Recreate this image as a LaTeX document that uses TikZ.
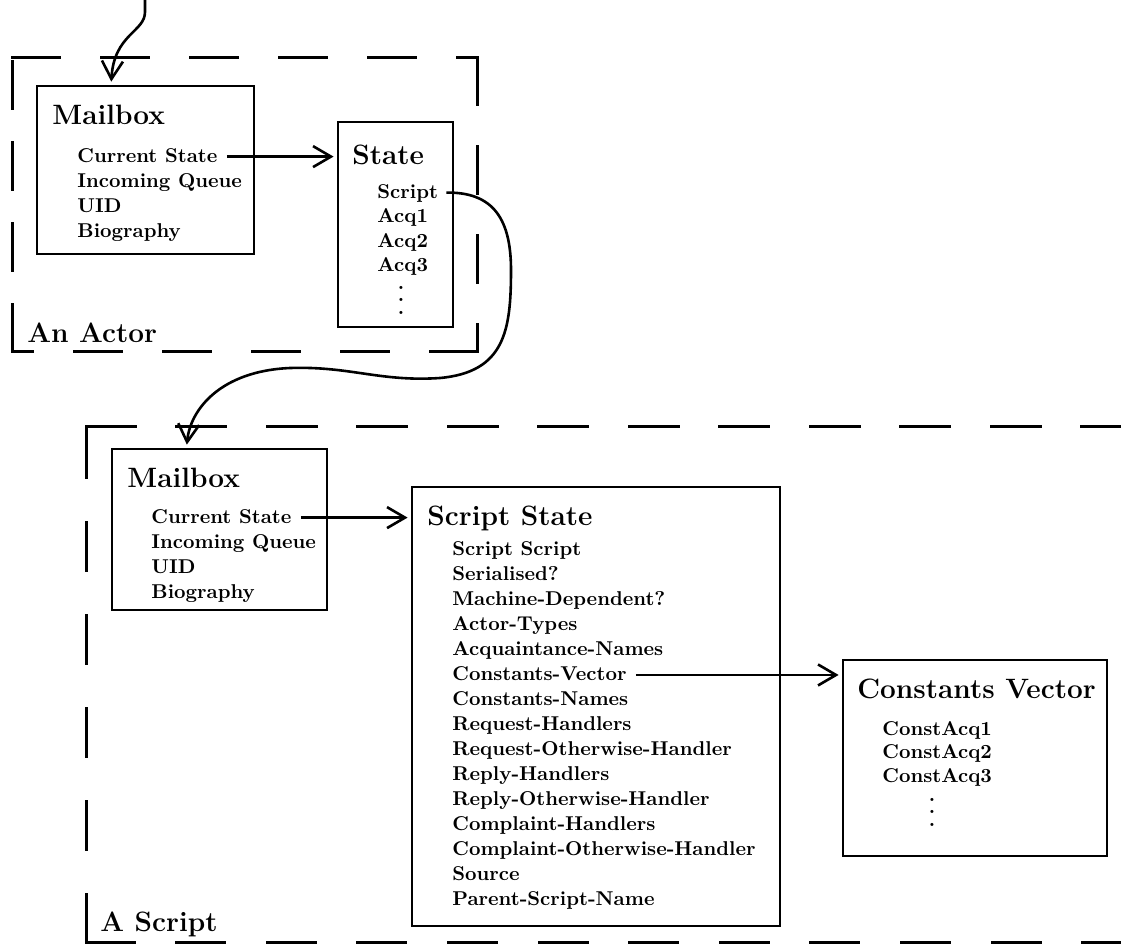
\documentclass[tikz,border=0pt]{standalone}
\usetikzlibrary{arrows.meta,fit,calc}
\newcommand{\myvdots}{\vbox{\baselineskip6.25pt\lineskiplimit0pt\hbox{.}\hbox{.}\hbox{.}}}
\begin{document}
\begin{tikzpicture}[x=0.5pt,y=-0.5pt,
  box/.style={draw, line width=1.4pt, inner sep=0pt, rectangle},
  ttl/.style={anchor=base west, inner sep=0pt, font=\bfseries\fontsize{14}{16}\selectfont},
  itm/.style={anchor=base west, inner sep=0pt, font=\bfseries\fontsize{10}{12.5}\selectfont},
  vdot/.style={anchor=base, inner sep=0pt, font=\bfseries\fontsize{10}{12}\selectfont},
  arr/.style={line width=1.3pt, -{Straight Barb[length=9pt,width=10.5pt,line width=1.3pt]}, shorten >=1.5pt},
  dsh/.style={line width=1.5pt, line cap=rect},
]
\useasboundingbox (0,0) rectangle (1121,944);

% ---------- An Actor (dashed frame) ----------
\draw[dsh, dash pattern=on 23.5pt off 21pt] (12,57) -- (477,57);
\draw[dsh, dash pattern=on 23.5pt off 21pt] (477,57) -- (477,351);
\draw[dsh, dash pattern=on 23.5pt off 21pt] (477,351) -- (12,351);
\draw[dsh, dash pattern=on 23.5pt off 17pt] (12,351) -- (12,57);
\node[ttl] (actorlbl) at (27,342) {An Actor};

% Mailbox 1
\node[box, fit={(37,86) (254,254)}] (mb1) {};
\node[ttl] (mb1t) at (52,124) {Mailbox};
\node[itm] (cs1) at (77,162) {Current State};
\node[itm] (iq1) at (77,187) {Incoming Queue};
\node[itm] (uid1) at (77,212) {UID};
\node[itm] (bio1) at (77,237) {Biography};

% State
\node[box, fit={(338,122) (453,327)}] (state) {};
\node[ttl] (statet) at (352,164) {State};
\node[itm] (scr) at (377,198) {Script};
\node[itm] (acq1) at (377,222.5) {Acq1};
\node[itm] (acq2) at (377,247) {Acq2};
\node[itm] (acq3) at (377,271.5) {Acq3};
\node[vdot] (sdots) at (401,314) {\myvdots};

% ---------- A Script (dashed frame, open on the right) ----------
\draw[dsh, dash pattern=on 24.5pt off 20.75pt] (86,426) -- (1121,426);
\draw[dsh, dash pattern=on 24pt off 21.3pt] (86,942) -- (1121,942);
\draw[dsh, dash pattern=on 24pt off 22.5pt] (86,942) -- (86,426);
\node[ttl] (scriptlbl) at (100,931) {A Script};

% Mailbox 2
\node[box, fit={(112,449) (327,610)}] (mb2) {};
\node[ttl] (mb2t) at (127,487) {Mailbox};
\node[itm] (cs2) at (151,523) {Current State};
\node[itm] (iq2) at (151,548) {Incoming Queue};
\node[itm] (uid2) at (151,573) {UID};
\node[itm] (bio2) at (151,598) {Biography};

% Script State
\node[box, fit={(412,487) (780,926)}] (ss) {};
\node[ttl] (sst) at (427,525) {Script State};
\foreach \t [count=\i from 0] in {Script Script, Serialised?, Machine-Dependent?, Actor-Types, Acquaintance-Names, Constants-Vector, Constants-Names, Request-Handlers, Request-Otherwise-Handler, Reply-Handlers, Reply-Otherwise-Handler, Complaint-Handlers, Complaint-Otherwise-Handler, Source, Parent-Script-Name}
  \node[itm] (ss\i) at (452,{555+25.07*\i}) {\t};

% Constants Vector
\node[box, fit={(843,660) (1107,856)}] (cvbox) {};
\node[ttl] (cvt) at (857,698) {Constants Vector};
\node[itm] (ca1) at (882,735) {ConstAcq1};
\node[itm] (ca2) at (882,758.5) {ConstAcq2};
\node[itm] (ca3) at (882,782) {ConstAcq3};
\node[vdot] (cdots) at (932,826) {\myvdots};

% ---------- connectors ----------
\coordinate (src) at (145,0);
\coordinate (mb1in) at ($(mb1.north west)+(75.5,0)$);
\draw[arr] (src) -- (145,12) .. controls (145,32) and (114,34) .. (mb1in);

\coordinate (a1s) at ([xshift=4.5pt,yshift=2.7pt]cs1.base east);
\draw[arr] (a1s) -- (a1s -| state.west);

\coordinate (c1s) at ([xshift=4pt,yshift=2.7pt]scr.base east);
\coordinate (mb2in) at ($(mb2.north west)+(76,0)$);
\draw[arr] (c1s) .. controls (490,192) and (511,215) .. (511,270)
  .. controls (511,330) and (505,372) .. (440,378)
  .. controls (380,382) and (350,366) .. (290,368)
  .. controls (220,371) and (190,410) .. (mb2in);

\coordinate (a2s) at ([xshift=4.5pt,yshift=2.7pt]cs2.base east);
\draw[arr] (a2s) -- (a2s -| ss.west);

\coordinate (a3s) at ([xshift=4.5pt,yshift=2.7pt]ss5.base east);
\draw[arr] (a3s) -- (a3s -| cvbox.west);
\end{tikzpicture}
\end{document}
